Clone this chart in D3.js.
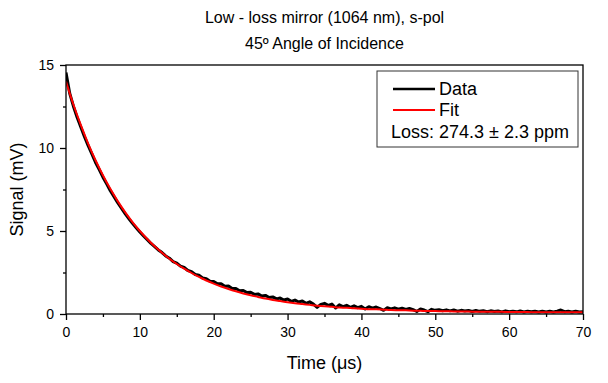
<!DOCTYPE html>
<html>
<head>
<meta charset="utf-8">
<script src="https://cdn.jsdelivr.net/npm/d3@7"></script>
<style>
  body { margin: 0; background: #fff; }
  svg text { font-family: "Liberation Sans", Arial, sans-serif; fill: #000; }
</style>
</head>
<body>
<div id="chart"></div>
<script>
// Chart text
const titleLines = ['Low - loss mirror (1064 nm), s-pol', '45\u00BA Angle of Incidence'];
const xLabel = 'Time (\u03BCs)';
const yLabel = 'Signal (mV)';
const legendNames = ['Data', 'Fit'];
const lossLabel = 'Loss: 274.3 \u00B1 2.3 ppm';

// Axis ticks
const xTicks = [0, 10, 20, 30, 40, 50, 60, 70];
const xMinorTicks = [5, 15, 25, 35, 45, 55, 65];
const yTicks = [0, 5, 10, 15];
const yMinorTicks = [2.5, 7.5, 12.5];

// Fit curve, one value per microsecond
const fitStep = 1;
const fitSignal = [
  14.00, 12.62, 11.39, 10.27, 9.26, 8.36, 7.54, 6.80, 6.14, 5.54,
  5.00, 4.52, 4.08, 3.69, 3.33, 3.01, 2.73, 2.47, 2.23, 2.02,
  1.83, 1.66, 1.51, 1.37, 1.24, 1.13, 1.03, 0.93, 0.85, 0.78,
  0.71, 0.65, 0.60, 0.55, 0.50, 0.46, 0.43, 0.39, 0.37, 0.34,
  0.32, 0.29, 0.28, 0.26, 0.24, 0.23, 0.22, 0.20, 0.19, 0.18,
  0.18, 0.16, 0.16, 0.15, 0.15, 0.14, 0.14, 0.13, 0.13, 0.13,
  0.12, 0.12, 0.12, 0.11, 0.11, 0.11, 0.11, 0.11, 0.11, 0.11,
  0.11
];

// Measured ring-down trace, every 0.5 microseconds
const dataStep = 0.5;
const dataSignal = [
  14.55, 13.30, 12.52, 11.85, 11.27, 10.68, 10.14, 9.64, 9.13, 8.70,
  8.24, 7.84, 7.43, 7.07, 6.70, 6.37, 6.05, 5.75, 5.46, 5.20,
  4.94, 4.70, 4.48, 4.25, 4.06, 3.86, 3.70, 3.50, 3.36, 3.16,
  3.06, 2.88, 2.80, 2.62, 2.55, 2.38, 2.33, 2.17, 2.13, 1.98,
  1.96, 1.82, 1.82, 1.67, 1.68, 1.53, 1.54, 1.40, 1.42, 1.29,
  1.31, 1.18, 1.21, 1.08, 1.12, 0.99, 1.03, 0.91, 0.96, 0.84,
  0.90, 0.76, 0.84, 0.72, 0.78, 0.64, 0.73, 0.60, 0.40, 0.58,
  0.64, 0.52, 0.60, 0.36, 0.55, 0.44, 0.52, 0.40, 0.49, 0.38,
  0.46, 0.30, 0.44, 0.35, 0.42, 0.33, 0.22, 0.38, 0.31, 0.37,
  0.29, 0.35, 0.27, 0.33, 0.26, 0.15, 0.30, 0.24, 0.14, 0.28,
  0.22, 0.26, 0.20, 0.25, 0.19, 0.24, 0.17, 0.22, 0.18, 0.21,
  0.15, 0.21, 0.16, 0.20, 0.14, 0.19, 0.15, 0.18, 0.13, 0.19,
  0.14, 0.17, 0.13, 0.18, 0.12, 0.17, 0.13, 0.16, 0.12, 0.17,
  0.12, 0.16, 0.12, 0.17, 0.24, 0.14, 0.16, 0.12, 0.16, 0.12,
  0.14
];

const width = 608;
const height = 383;
const margin = { top: 65, right: 25, bottom: 69, left: 66 };
const chartWidth = width - margin.left - margin.right;
const chartHeight = height - margin.top - margin.bottom;

const svg = d3.select('#chart')
  .append('svg')
  .attr('width', width)
  .attr('height', height);

// Title
svg.append('g')
  .selectAll('text')
  .data(titleLines)
  .enter()
  .append('text')
  .attr('x', margin.left + chartWidth / 2)
  .attr('y', (d, i) => 23 + i * 26)
  .attr('text-anchor', 'middle')
  .style('font-size', '16px')
  .text(d => d);

const g = svg.append('g')
  .attr('transform', `translate(${margin.left},${margin.top})`);

// Scales
const xScale = d3.scaleLinear().domain([0, 70]).range([0, chartWidth]);
const yScale = d3.scaleLinear().domain([0, 15]).range([chartHeight, 0]);

const dataPoints = dataSignal.map((v, i) => ({ t: i * dataStep, v }));
const fitPoints = fitSignal.map((v, i) => ({ t: i * fitStep, v }));

// Clip the traces to the plot frame
g.append('defs')
  .append('clipPath')
  .attr('id', 'plot-area')
  .append('rect')
  .attr('width', chartWidth)
  .attr('height', chartHeight);

const traces = g.append('g').attr('clip-path', 'url(#plot-area)');

traces.append('path')
  .datum(dataPoints)
  .attr('fill', 'none')
  .attr('stroke', '#000')
  .attr('stroke-width', 3)
  .attr('stroke-linejoin', 'round')
  .attr('d', d3.line().x(d => xScale(d.t)).y(d => yScale(d.v)));

traces.append('path')
  .datum(fitPoints)
  .attr('fill', 'none')
  .attr('stroke', '#ff0000')
  .attr('stroke-width', 2)
  .attr('d', d3.line().x(d => xScale(d.t)).y(d => yScale(d.v)).curve(d3.curveMonotoneX));

// Frame
g.append('rect')
  .attr('width', chartWidth)
  .attr('height', chartHeight)
  .attr('fill', 'none')
  .attr('stroke', '#000')
  .attr('stroke-width', 1.3);

// Axes
const styleAxis = sel => sel
  .call(a => a.select('.domain').remove())
  .call(a => a.selectAll('line').attr('stroke', '#000').attr('stroke-width', 1.3))
  .call(a => a.selectAll('text').style('font-size', '14px').attr('fill', '#000'));

g.append('g')
  .attr('transform', `translate(0,${chartHeight})`)
  .call(d3.axisBottom(xScale).tickValues(xTicks).tickSize(6).tickPadding(7).tickFormat(d3.format('d')))
  .call(styleAxis);

g.append('g')
  .attr('transform', `translate(0,${chartHeight})`)
  .call(d3.axisBottom(xScale).tickValues(xMinorTicks).tickSize(3).tickFormat(''))
  .call(styleAxis);

g.append('g')
  .call(d3.axisLeft(yScale).tickValues(yTicks).tickSize(6).tickPadding(6).tickFormat(d3.format('d')))
  .call(styleAxis);

g.append('g')
  .call(d3.axisLeft(yScale).tickValues(yMinorTicks).tickSize(3).tickFormat(''))
  .call(styleAxis);

// Axis titles
svg.append('text')
  .attr('x', margin.left + chartWidth / 2)
  .attr('y', 369)
  .attr('text-anchor', 'middle')
  .style('font-size', '18px')
  .text(xLabel);

svg.append('text')
  .attr('transform', `translate(23,${margin.top + chartHeight / 2}) rotate(-90)`)
  .attr('text-anchor', 'middle')
  .style('font-size', '18px')
  .text(yLabel);

// Legend
const legend = svg.append('g').attr('transform', 'translate(377,71)');

legend.append('rect')
  .attr('width', 201)
  .attr('height', 76)
  .attr('fill', '#fff')
  .attr('stroke', '#333')
  .attr('stroke-width', 1);

const legendColors = ['#000', '#ff0000'];

const rows = legend.selectAll('.row')
  .data(legendNames)
  .enter()
  .append('g')
  .attr('class', 'row')
  .attr('transform', (d, i) => `translate(0,${18 + i * 21})`);

rows.append('line')
  .attr('x1', 16)
  .attr('x2', 58)
  .attr('stroke', (d, i) => legendColors[i])
  .attr('stroke-width', (d, i) => i === 0 ? 2.5 : 2);

rows.append('text')
  .attr('x', 62)
  .attr('y', 6)
  .style('font-size', '18px')
  .text(d => d);

legend.append('text')
  .attr('x', 14)
  .attr('y', 67)
  .style('font-size', '18px')
  .text(lossLabel);
</script>
</body>
</html>
